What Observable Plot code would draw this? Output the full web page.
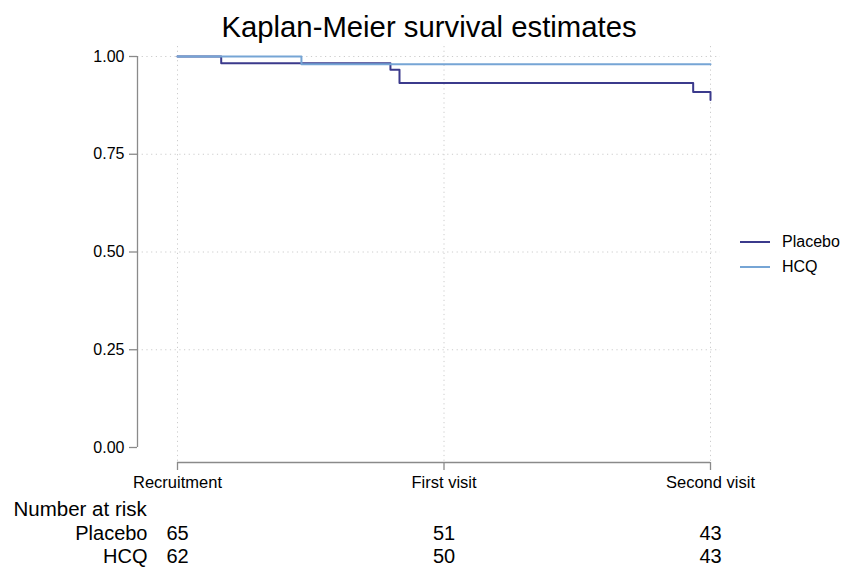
<!DOCTYPE html>
<html>
<head>
<meta charset="utf-8">
<script src="https://cdn.jsdelivr.net/npm/d3@7"></script>
<script src="https://cdn.jsdelivr.net/npm/@observablehq/plot@0.6"></script>
<style>
  html, body { margin: 0; padding: 0; background: #fff; }
  #wrap { position: relative; width: 846px; height: 567px; font-family: "Liberation Sans", Arial, sans-serif; }
  #legend { position: absolute; left: 740px; top: 229px; font-size: 16px; color: #000; }
  #legend .row { display: flex; align-items: center; height: 25px; }
  #legend svg { margin-right: 12px; }
</style>
</head>
<body>
<div id="wrap"></div>
<script>
// ---- data ----
const title = "Kaplan-Meier survival estimates";
const tickTimes = [0, 1, 2];
const tickLabels = ["Recruitment", "First visit", "Second visit"];
const yTicks = [0, 0.25, 0.5, 0.75, 1];
const groups = ["Placebo", "HCQ"];
const colors = ["#3b3a8c", "#76a5d5"];
const placeboTimes = [0, 0.164, 0.799, 0.833, 1.935, 2.0];
const placeboSurv  = [1.0, 0.983, 0.966, 0.932, 0.909, 0.889];
const hcqTimes = [0, 0.465, 2.0];
const hcqSurv  = [1.0, 0.980, 0.980];
const riskTitle = "Number at risk";
const placeboRisk = [65, 51, 43];
const hcqRisk = [62, 50, 43];

const placebo = placeboTimes.map((t, i) => ({group: "Placebo", t, s: placeboSurv[i]}));
const hcq = hcqTimes.map((t, i) => ({group: "HCQ", t, s: hcqSurv[i]}));
const riskRows = [
  {label: "Placebo", values: placeboRisk, dy: 77},
  {label: "HCQ", values: hcqRisk, dy: 100}
];

const axisGray = "#8a8a8a";
const gridGray = "#cccccc";

const marks = [
  Plot.gridY(yTicks.filter(d => d > 0), {stroke: gridGray, strokeOpacity: 1, strokeDasharray: "1.2,3.5"}),
  Plot.gridX(tickTimes, {stroke: gridGray, strokeOpacity: 1, strokeDasharray: "1.2,3.5"}),
  // axis lines (offset Stata-style)
  Plot.ruleX([0], {y1: 0, y2: 1, dx: -40, stroke: axisGray, strokeWidth: 1.3}),
  Plot.ruleY([0], {x1: 0, x2: 2, dy: 15, stroke: axisGray, strokeWidth: 1.3}),
  Plot.axisY({ticks: yTicks, tickFormat: d3.format(".2f"), tickSize: 8, tickPadding: 5, stroke: axisGray, strokeWidth: 1.3, label: null, fontSize: 16}),
  Plot.axisX({ticks: tickTimes, tickFormat: (d) => tickLabels[tickTimes.indexOf(d)], tickSize: 8, tickPadding: 6, stroke: axisGray, strokeWidth: 1.3, label: null, fontSize: 16.5}),
  Plot.line(placebo, {x: "t", y: "s", curve: "step-after", stroke: colors[0], strokeWidth: 2}),
  Plot.line(hcq, {x: "t", y: "s", curve: "step-after", stroke: colors[1], strokeWidth: 2}),
  Plot.text([title], {frameAnchor: "top", dy: -30, fontSize: 29.3, fill: "#000"}),
  Plot.text([riskTitle], {frameAnchor: "bottom-left", dx: -124, dy: 53, textAnchor: "start", fontSize: 20.5, fill: "#000"})
];
for (const row of riskRows) {
  marks.push(Plot.text([row.label], {frameAnchor: "bottom-left", dx: 10, dy: row.dy, textAnchor: "end", fontSize: 20, fill: "#000"}));
  marks.push(Plot.text(row.values, {x: (d, i) => tickTimes[i], text: d => String(d), frameAnchor: "bottom", dy: row.dy, fontSize: 20, fill: "#000"}));
}

const chart = Plot.plot({
  width: 846,
  height: 567,
  marginLeft: 137,
  marginRight: 126,
  marginTop: 46,
  marginBottom: 105,
  style: {fontFamily: "Liberation Sans, Arial, sans-serif", fontSize: "16px", color: "#000", background: "#fff", overflow: "visible"},
  x: {domain: [0, 2], insetLeft: 40, insetRight: 10},
  y: {domain: [0, 1], insetTop: 10, insetBottom: 15},
  marks
});
const wrap = document.getElementById("wrap");
wrap.appendChild(chart);

// legend
const legend = document.createElement("div");
legend.id = "legend";
groups.forEach((g, i) => {
  const row = document.createElement("div");
  row.className = "row";
  row.innerHTML = `<svg width="30" height="4"><line x1="0" x2="30" y1="2" y2="2" stroke="${colors[i]}" stroke-width="2"/></svg><span>${g}</span>`;
  legend.appendChild(row);
});
wrap.appendChild(legend);
</script>
</body>
</html>
